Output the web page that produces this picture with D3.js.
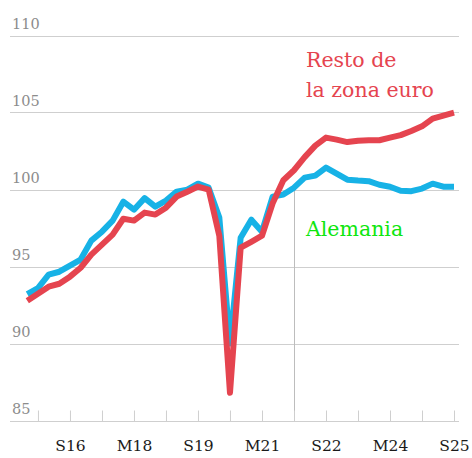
<!DOCTYPE html>
<html>
<head>
<meta charset="utf-8">
<script src="https://cdn.jsdelivr.net/npm/d3@7"></script>
<style>
body { margin: 0; background: #fff; }
text { font-family: "DejaVu Serif", serif; }
</style>
</head>
<body>
<script>
// quarters, Q3 2015 .. Q3 2025
var quarters = ["2015T3","2015T4","2016T1","2016T2","2016T3","2016T4","2017T1","2017T2","2017T3","2017T4",
  "2018T1","2018T2","2018T3","2018T4","2019T1","2019T2","2019T3","2019T4","2020T1","2020T2",
  "2020T3","2020T4","2021T1","2021T2","2021T3","2021T4","2022T1","2022T2","2022T3","2022T4",
  "2023T1","2023T2","2023T3","2023T4","2024T1","2024T2","2024T3","2024T4","2025T1","2025T2","2025T3"];

var alemania = [93.2, 93.6, 94.47, 94.66, 95.05, 95.45, 96.68, 97.26, 97.98, 99.21,
  98.69, 99.44, 98.89, 99.28, 99.86, 99.99, 100.38, 100.12, 98.18, 90.0,
  96.87, 98.04, 97.26, 99.54, 99.67, 100.12, 100.77, 100.9, 101.42, 101.03,
  100.64, 100.58, 100.54, 100.31, 100.18, 99.92, 99.89, 100.06, 100.38, 100.18, 100.18];

var restoZona = [92.78, 93.23, 93.69, 93.88, 94.34, 94.92, 95.77, 96.42, 97.07, 98.1,
  97.98, 98.5, 98.37, 98.82, 99.54, 99.86, 100.19, 99.99, 97.0, 86.8,
  96.22, 96.6, 97.0, 99.1, 100.6, 101.25, 102.1, 102.85, 103.37, 103.24,
  103.08, 103.17, 103.2, 103.2, 103.37, 103.53, 103.8, 104.1, 104.6, 104.8, 104.99];

var tickQuarters = ["2015T4","2016T3","2017T2","2018T1","2018T4","2019T3","2020T2","2021T1","2021T4","2022T3","2023T2","2024T1","2024T4","2025T3"];
var tickLabels = {"2016T3":"S16","2018T1":"M18","2019T3":"S19","2021T1":"M21","2022T3":"S22","2024T1":"M24","2025T3":"S25"};
var yTicks = [85, 90, 95, 100, 105, 110];
var markQuarter = "2021T4";

var width = 472, height = 458;

var svg = d3.select("body").append("svg")
  .attr("width", width)
  .attr("height", height);

var x = d3.scalePoint()
  .domain(quarters)
  .range([27.3, 454]);

var y = d3.scaleLinear()
  .domain([85, 110])
  .range([420.5, 35.5]);

//gridlines + labels
var grid = svg.append("g");
grid.selectAll("line")
  .data(yTicks)
  .enter().append("line")
  .attr("x1", 10).attr("x2", 459)
  .attr("y1", function(d) { return Math.round(y(d)) + 0.5; })
  .attr("y2", function(d) { return Math.round(y(d)) + 0.5; })
  .attr("stroke", "#cfcfcf")
  .attr("stroke-width", 1);

grid.selectAll("text")
  .data(yTicks)
  .enter().append("text")
  .attr("x", 12)
  .attr("y", function(d) { return y(d) - 7; })
  .attr("fill", "#8c8c8c")
  .style("font-size", "14.5px")
  .text(function(d) { return d; });

//vertical marker
svg.append("line")
  .attr("x1", Math.round(x(markQuarter)) + 0.5)
  .attr("x2", Math.round(x(markQuarter)) + 0.5)
  .attr("y1", y(100))
  .attr("y2", y(85))
  .attr("stroke", "#bdbdbd")
  .attr("stroke-width", 1);

//x axis
var xAxis = d3.axisBottom(x)
  .tickValues(tickQuarters)
  .tickSizeInner(-11)
  .tickSizeOuter(0)
  .tickFormat(function(d) { return tickLabels[d] || ""; });

var gx = svg.append("g")
  .attr("transform", "translate(0," + (Math.round(y(85)) + 0.5) + ")")
  .call(xAxis);
gx.select(".domain").remove();
gx.selectAll(".tick line").attr("stroke", "#cfcfcf");
gx.selectAll(".tick text")
  .attr("y", 29)
  .attr("dy", 0)
  .attr("fill", "#1a1a1a")
  .style("font-family", "DejaVu Serif, serif")
  .style("font-size", "15.5px");

//lines
var line = d3.line()
  .x(function(d, i) { return x(quarters[i]); })
  .y(function(d) { return y(d); });

svg.append("path")
  .datum(alemania)
  .attr("d", line)
  .attr("fill", "none")
  .attr("stroke", "#17b2e6")
  .attr("stroke-width", 6)
  .attr("stroke-linejoin", "round");

svg.append("path")
  .datum(restoZona)
  .attr("d", line)
  .attr("fill", "none")
  .attr("stroke", "#e5444f")
  .attr("stroke-width", 6)
  .attr("stroke-linejoin", "round");

//labels
svg.append("text")
  .attr("x", 306).attr("y", 67)
  .attr("fill", "#e5444f")
  .style("font-size", "20.5px")
  .text("Resto de");
svg.append("text")
  .attr("x", 306).attr("y", 97)
  .attr("fill", "#e5444f")
  .style("font-size", "20.5px")
  .text("la zona euro");

svg.append("text")
  .attr("x", 306).attr("y", 236)
  .attr("fill", "#0ee60e")
  .style("font-size", "20.5px")
  .text("Alemania");
</script>
</body>
</html>
